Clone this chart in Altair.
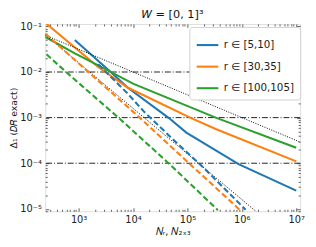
import altair as alt
import pandas as pd

labels = ["r ∈ [5,10]", "r ∈ [30,35]", "r ∈ [100,105]"]
colors = ["#1f77b4", "#ff7f0e", "#2ca02c"]

# solid curves (vs N_r)
blue_solid_N = [851, 3890, 7943, 45700, 95500, 871000, 1.0e7]
blue_solid_D = [0.0501, 0.0100, 0.00457, 9.77e-4, 4.68e-4, 9.55e-5, 2.51e-5]
orange_solid_N = [245, 2291, 7943, 117490, 331131, 1.0e7]
orange_solid_D = [0.120, 0.0129, 0.00457, 9.77e-4, 5.62e-4, 1.10e-4]
green_solid_N = [245, 851, 1950, 10233, 331131, 1.0e7]
green_solid_D = [0.0589, 0.0257, 0.0155, 0.0055, 1.0e-3, 2.19e-4]

# dashed curves (vs N_2x3)
blue_dash_N = [2291, 7943, 16218, 63096, 194984, 1174898]
blue_dash_D = [0.0148, 0.00339, 0.00132, 2.82e-4, 8.13e-5, 9.55e-6]
orange_dash_N = [245, 490, 10233, 218776, 933254]
orange_dash_D = [0.0692, 0.0331, 0.00132, 4.57e-5, 9.33e-6]
green_dash_N = [257, 589, 5754, 48978, 363078]
green_dash_D = [0.0245, 0.0100, 9.33e-4, 9.12e-5, 9.33e-6]

# dotted reference slopes
ref_half_N = [244, 1.18e7]
ref_half_D = [0.064, 2.91e-4]
ref_one_N = [244, 2.5e6]
ref_one_D = [0.0656, 6.4e-6]

# horizontal dash-dot levels
hlines = [1e-2, 1e-3, 1e-4]

xdom = [244, 1.18e7]
ydom = [8.85e-6, 0.113]
W, H = 260, 191

rows = []
for lab, N, D in [(labels[0], blue_solid_N, blue_solid_D),
                  (labels[1], orange_solid_N, orange_solid_D),
                  (labels[2], green_solid_N, green_solid_D)]:
    for n, d in zip(N, D):
        rows.append({"N": n, "D": d, "r": lab, "kind": "solid"})
for lab, N, D in [(labels[0], blue_dash_N, blue_dash_D),
                  (labels[1], orange_dash_N, orange_dash_D),
                  (labels[2], green_dash_N, green_dash_D)]:
    for n, d in zip(N, D):
        rows.append({"N": n, "D": d, "r": lab, "kind": "dashed"})
df = pd.DataFrame(rows)

refrows = []
for name, N, D in [("half", ref_half_N, ref_half_D), ("one", ref_one_N, ref_one_D)]:
    for n, d in zip(N, D):
        refrows.append({"N": n, "D": d, "ref": name})
dref = pd.DataFrame(refrows)
dh = pd.DataFrame({"y": hlines})

sup = {"0": "⁰", "1": "¹", "2": "²", "3": "³", "4": "⁴", "5": "⁵",
       "6": "⁶", "7": "⁷", "8": "⁸", "9": "⁹", "-": "⁻"}


def supstr(k):
    return "10" + "".join(sup[c] for c in str(k))


E = "round(log(datum.value)/LN10)"


def label_expr(ks):
    return " : ".join(f"{E} == {k} ? '{supstr(k)}'" for k in ks) + " : ''"


def ticks_in(lo, hi, kmin, kmax):
    out = []
    for k in range(kmin, kmax + 1):
        for m in range(1, 10):
            v = m * 10.0 ** k
            if lo <= v <= hi:
                out.append(v)
    return out


xt = ticks_in(xdom[0], xdom[1], 2, 7)
yt = ticks_in(ydom[0], ydom[1], -6, -1)
major_test = f"abs(log(datum.value)/LN10 - {E}) < 0.001"
tsize = {"condition": {"test": major_test, "value": 3.5}, "value": 2}

font = "DejaVu Sans"

x_lab = alt.Axis(orient="bottom", values=[1e3, 1e4, 1e5, 1e6, 1e7],
                 labelExpr=label_expr(range(3, 8)), ticks=False, domain=False,
                 grid=False, labelPadding=3, labelFontSize=10, labelFont=font,
                 labelColor="#222", title="𝑁ᵣ, 𝑁₂ₓ₃", titleFontSize=10,
                 titleFont=font, titleFontWeight="normal", titlePadding=3,
                 titleColor="#222", labelOverlap=False)
y_lab = alt.Axis(orient="left", values=[1e-1, 1e-2, 1e-3, 1e-4, 1e-5],
                 labelExpr=label_expr(range(-5, 0)), ticks=False, domain=False,
                 grid=False, labelPadding=4, labelFontSize=10, labelFont=font,
                 labelColor="#222", title="Δ₁  (𝐷𝑅 exact)", titleFontSize=9.5,
                 titleFont=font, titleFontWeight="normal", titleX=-32.5,
                 titleY=H / 2, titleBaseline="middle", titleAngle=270,
                 titleColor="#222", labelOverlap=False)


def tick_axis(orient, offset, vals):
    return alt.Axis(orient=orient, offset=offset, values=vals, labels=False,
                    domain=False, grid=False, ticks=True, tickSize=tsize,
                    tickColor="#333", tickWidth=0.8, title=None)


xs = lambda ax: alt.X("N:Q", scale=alt.Scale(type="log", domain=xdom, nice=False), axis=ax)
ys = lambda ax: alt.Y("D:Q", scale=alt.Scale(type="log", domain=ydom, nice=False), axis=ax)

cscale = alt.Scale(domain=labels, range=colors)

rules = alt.Chart(dh).mark_rule(color="#222", strokeWidth=1,
                                strokeDash=[6, 2, 1, 2]).encode(
    y=alt.Y("y:Q", scale=alt.Scale(type="log", domain=ydom, nice=False), axis=None)
)

solid = alt.Chart(df).transform_filter(alt.datum.kind == "solid").mark_line(
    strokeWidth=2.1, clip=True).encode(
    x=xs(x_lab), y=ys(y_lab),
    color=alt.Color("r:N", scale=cscale, sort=labels,
                    legend=alt.Legend(title=None, orient="none", legendX=147, legendY=3,
                                      symbolType="stroke", symbolSize=484,
                                      symbolStrokeWidth=2.1, labelFontSize=10.5,
                                      labelFont=font, labelColor="#222",
                                      labelOffset=4, rowPadding=4, padding=6,
                                      fillColor="white", strokeColor="#d0d0d0",
                                      cornerRadius=3)),
    order="N:Q",
)

dashed = alt.Chart(df).transform_filter(alt.datum.kind == "dashed").mark_line(
    strokeWidth=2.1, strokeDash=[6, 3], clip=True).encode(
    x=xs(tick_axis("top", -H, xt)), y=ys(tick_axis("right", -W, yt)),
    color=alt.Color("r:N", scale=cscale, sort=labels, legend=None),
    order="N:Q",
)

dotted = alt.Chart(dref).mark_line(color="black", strokeWidth=1,
                                   strokeDash=[1, 1.5], clip=True).encode(
    x=xs(tick_axis("bottom", -H, xt)), y=ys(tick_axis("left", -W, yt)),
    detail="ref:N",
)

chart = alt.layer(rules, solid, dotted, dashed).resolve_axis(
    x="independent", y="independent"
).properties(
    width=W, height=H,
    title=alt.TitleParams("𝑊 = [0, 1]³", fontSize=11.5, font=font,
                          fontWeight="normal", offset=1, anchor="middle",
                          color="#111"),
    autosize=alt.AutoSizeParams(type="none"),
    padding={"left": 38, "top": 14, "right": 8, "bottom": 26},
).configure_view(stroke="#555", strokeWidth=1.2).configure(font=font)

chart.save("out.html", embed_options={"renderer": "svg", "actions": False})
